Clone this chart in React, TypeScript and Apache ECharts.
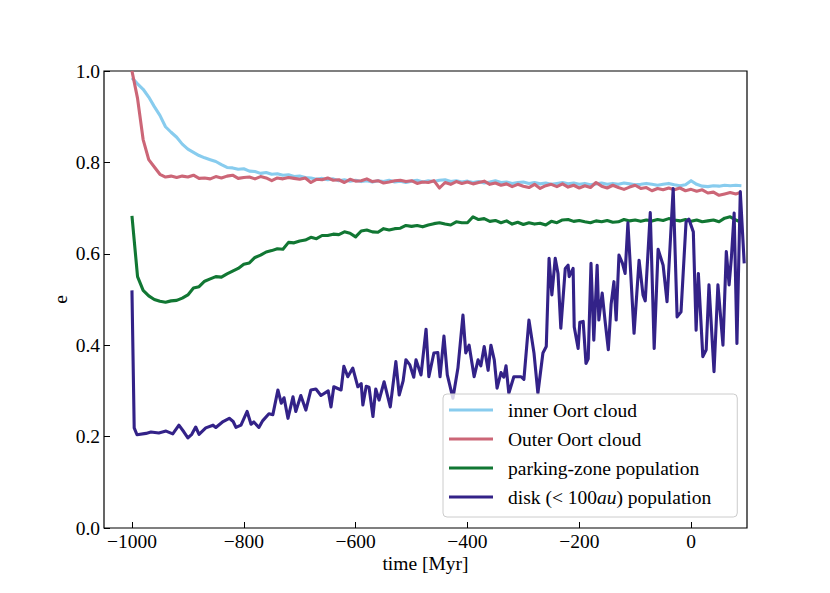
import React, { useEffect, useRef } from "react";
import * as echarts from "echarts";

// Sampling grid (Myr) for the three smoother populations
const timeGrid = [
  -1000, -990, -980, -970, -960, -950, -940, -930, -920, -910,
  -900, -890, -880, -870, -860, -850, -840, -830, -820, -810,
  -800, -790, -780, -770, -760, -750, -740, -730, -720, -710,
  -700, -690, -680, -670, -660, -650, -640, -630, -620, -610,
  -600, -590, -580, -570, -560, -550, -540, -530, -520, -510,
  -500, -490, -480, -470, -460, -450, -440, -430, -420, -410,
  -400, -390, -380, -370, -360, -350, -340, -330, -320, -310,
  -300, -290, -280, -270, -260, -250, -240, -230, -220, -210,
  -200, -190, -180, -170, -160, -150, -140, -130, -120, -110,
  -100, -90, -80, -70, -60, -50, -40, -30, -20, -10,
  0, 10, 20, 30, 40, 50, 60, 70, 80, 90,
];

const innerOort = [
  0.985, 0.972, 0.96, 0.943, 0.922, 0.903, 0.878, 0.866, 0.855, 0.84,
  0.829, 0.822, 0.815, 0.81, 0.806, 0.802, 0.795, 0.789, 0.788, 0.785,
  0.786, 0.781, 0.78, 0.776, 0.778, 0.774, 0.775, 0.772, 0.773, 0.769,
  0.77, 0.767, 0.766, 0.763, 0.765, 0.762, 0.764, 0.76, 0.762, 0.759,
  0.761, 0.758, 0.76, 0.757, 0.76, 0.758, 0.761, 0.757, 0.759, 0.756,
  0.759, 0.761, 0.757, 0.76, 0.758, 0.761, 0.762, 0.758, 0.76, 0.757,
  0.759, 0.756, 0.758, 0.755, 0.757, 0.76, 0.756, 0.757, 0.754, 0.756,
  0.757, 0.754, 0.756, 0.753, 0.755, 0.752, 0.754, 0.756, 0.753, 0.755,
  0.752, 0.754, 0.751, 0.753, 0.755, 0.752, 0.754, 0.752, 0.755, 0.753,
  0.751, 0.752, 0.754, 0.752, 0.75, 0.752, 0.754, 0.751, 0.749, 0.751,
  0.76, 0.752, 0.748, 0.747, 0.749, 0.748, 0.75, 0.749, 0.75, 0.749,
];

const outerOort = [
  1.0, 0.94, 0.85, 0.806, 0.79, 0.774, 0.768, 0.77, 0.767, 0.77,
  0.768, 0.772, 0.765, 0.766, 0.764, 0.769, 0.766, 0.77, 0.772, 0.765,
  0.767, 0.768, 0.764, 0.769, 0.766, 0.76, 0.766, 0.764, 0.767, 0.765,
  0.763, 0.766, 0.756, 0.763, 0.762, 0.766, 0.761, 0.762, 0.756, 0.763,
  0.759, 0.76, 0.764, 0.758, 0.76, 0.755, 0.757, 0.76, 0.761, 0.758,
  0.76, 0.754, 0.757, 0.756, 0.76, 0.744, 0.756, 0.752, 0.758, 0.754,
  0.757, 0.753, 0.756, 0.759, 0.752, 0.755, 0.75, 0.753, 0.747, 0.752,
  0.748, 0.745, 0.752, 0.743, 0.749, 0.752, 0.747, 0.753, 0.746, 0.75,
  0.744, 0.749, 0.745, 0.756, 0.748, 0.744, 0.75, 0.745, 0.741, 0.746,
  0.75, 0.743, 0.745, 0.738, 0.743, 0.74, 0.744, 0.74, 0.744, 0.738,
  0.741, 0.737, 0.74, 0.733, 0.735, 0.728, 0.731, 0.734, 0.731, 0.735,
];

const parkingZone = [
  0.683, 0.55, 0.52, 0.508, 0.5, 0.496, 0.494, 0.497, 0.498, 0.503,
  0.51, 0.525, 0.528, 0.54, 0.545, 0.55, 0.549, 0.556, 0.562, 0.568,
  0.577, 0.58, 0.592, 0.597, 0.604, 0.607, 0.611, 0.61, 0.625, 0.624,
  0.628, 0.63, 0.636, 0.633, 0.64, 0.64, 0.643, 0.642, 0.648, 0.645,
  0.637, 0.65, 0.652, 0.648, 0.647, 0.655, 0.652, 0.655, 0.656, 0.662,
  0.66, 0.662, 0.659, 0.663, 0.666, 0.668, 0.665, 0.663, 0.67, 0.668,
  0.668, 0.681, 0.675, 0.677, 0.671, 0.673, 0.668, 0.672, 0.665, 0.669,
  0.664, 0.668, 0.665, 0.667, 0.663, 0.671, 0.668, 0.674, 0.675, 0.671,
  0.673, 0.67, 0.668, 0.672, 0.67, 0.673, 0.669, 0.67, 0.675, 0.672,
  0.674, 0.671, 0.674, 0.672, 0.675, 0.673, 0.677, 0.674, 0.672, 0.675,
  0.671, 0.674, 0.67, 0.672, 0.674, 0.67, 0.678, 0.681, 0.674, 0.669,
];

// Disk population: [time (Myr), e]
const diskPoints: [number, number][] = [
  [-1000, 0.52], [-996, 0.219], [-991, 0.204], [-975, 0.207], [-966, 0.21],
  [-952, 0.208], [-939, 0.212], [-927, 0.206], [-916, 0.225], [-907, 0.21],
  [-900, 0.197], [-893, 0.205], [-886, 0.221], [-880, 0.205], [-868, 0.219],
  [-855, 0.225], [-850, 0.22], [-837, 0.233], [-826, 0.24], [-819, 0.233],
  [-814, 0.22], [-805, 0.225], [-794, 0.255], [-787, 0.227], [-782, 0.232],
  [-773, 0.22], [-766, 0.235], [-755, 0.25], [-748, 0.248], [-739, 0.302],
  [-733, 0.273], [-728, 0.285], [-721, 0.24], [-712, 0.287], [-707, 0.255],
  [-698, 0.29], [-689, 0.258], [-680, 0.302], [-671, 0.304], [-662, 0.29],
  [-649, 0.3], [-644, 0.265], [-639, 0.309], [-626, 0.302], [-621, 0.354],
  [-614, 0.331], [-605, 0.35], [-596, 0.309], [-590, 0.316], [-587, 0.269],
  [-581, 0.31], [-576, 0.308], [-569, 0.244], [-564, 0.304], [-558, 0.28],
  [-549, 0.32], [-538, 0.265], [-528, 0.364], [-522, 0.291], [-515, 0.322],
  [-510, 0.368], [-503, 0.357], [-496, 0.33], [-492, 0.368], [-483, 0.335],
  [-474, 0.435], [-469, 0.331], [-460, 0.383], [-453, 0.384], [-449, 0.331],
  [-442, 0.42], [-436, 0.335], [-426, 0.284], [-417, 0.35], [-408, 0.466],
  [-403, 0.383], [-397, 0.4], [-388, 0.331], [-381, 0.368], [-376, 0.355],
  [-370, 0.397], [-363, 0.345], [-358, 0.4], [-352, 0.368], [-347, 0.306],
  [-340, 0.34], [-335, 0.33], [-331, 0.355], [-326, 0.295], [-317, 0.331],
  [-304, 0.331], [-299, 0.325], [-290, 0.455], [-281, 0.383], [-274, 0.295],
  [-265, 0.383], [-259, 0.397], [-254, 0.59], [-249, 0.51], [-243, 0.59],
  [-238, 0.557], [-233, 0.437], [-225, 0.568], [-220, 0.575], [-218, 0.55],
  [-211, 0.568], [-209, 0.44], [-202, 0.393], [-199, 0.45], [-193, 0.452],
  [-188, 0.36], [-184, 0.37], [-179, 0.579], [-174, 0.411], [-168, 0.575],
  [-165, 0.455], [-159, 0.514], [-154, 0.455], [-148, 0.39], [-143, 0.49],
  [-138, 0.539], [-134, 0.455], [-129, 0.597], [-123, 0.58], [-118, 0.557],
  [-113, 0.668], [-102, 0.426], [-93, 0.586], [-86, 0.51], [-82, 0.497],
  [-73, 0.69], [-66, 0.393], [-59, 0.61], [-50, 0.575], [-43, 0.495],
  [-32, 0.743], [-25, 0.462], [-18, 0.473], [-9, 0.67], [-4, 0.676],
  [4, 0.648], [9, 0.433], [13, 0.557], [21, 0.375], [27, 0.39],
  [32, 0.532], [41, 0.342], [48, 0.532], [57, 0.4], [63, 0.605],
  [68, 0.532], [72, 0.59], [77, 0.689], [82, 0.404], [88, 0.736],
  [95, 0.579],
];

const xTicks = [-1000, -800, -600, -400, -200, 0];
const seriesNames = [
  "inner Oort cloud",
  "Outer Oort cloud",
  "parking-zone population",
  "disk (< 100au) population",
];
const colors = ["#88CCEE", "#CC6677", "#117733", "#332288"];

const FONT = "'Liberation Serif', 'DejaVu Serif', serif";
const FS = 19.5;

function pair(values: number[]) {
  return values.map((v, i) => [timeGrid[i], v]);
}

export default function App() {
  const ref = useRef<HTMLDivElement>(null);

  useEffect(() => {
    if (!ref.current) return;
    const chart = echarts.init(ref.current, null, { renderer: "svg" });
    const datasets = [pair(innerOort), pair(outerOort), pair(parkingZone), diskPoints];
    chart.setOption({
      animation: false,
      backgroundColor: "#ffffff",
      grid: {
        left: 104,
        top: 71,
        width: 643,
        height: 457,
        show: true,
        borderColor: "#000000",
        borderWidth: 1.2,
        backgroundColor: "transparent",
      },
      xAxis: {
        type: "value",
        min: -1050,
        max: 100,
        name: "time [Myr]",
        nameLocation: "middle",
        nameGap: 25,
        nameMoveOverlap: false,
        nameTextStyle: { fontFamily: FONT, fontSize: FS, color: "#000" },
        axisLine: { show: false, onZero: false },
        splitLine: { show: false },
        axisTick: {
          show: true,
          inside: true,
          length: 6,
          lineStyle: { color: "#000", width: 1 },
          customValues: xTicks,
        },
        axisLabel: {
          customValues: xTicks,
          margin: 3,
          fontFamily: FONT,
          fontSize: FS,
          color: "#000",
          formatter: (v: number) => (v < 0 ? "\u2212" + Math.abs(v) : String(v)),
        },
      },
      yAxis: {
        type: "value",
        min: 0,
        max: 1,
        interval: 0.2,
        name: "e",
        nameLocation: "middle",
        nameRotate: 90,
        nameGap: 34,
        nameMoveOverlap: false,
        nameTextStyle: { fontFamily: FONT, fontSize: FS, color: "#000" },
        axisLine: { show: false, onZero: false },
        splitLine: { show: false },
        axisTick: {
          show: true,
          inside: true,
          length: 6,
          lineStyle: { color: "#000", width: 1 },
        },
        axisLabel: {
          margin: 4,
          fontFamily: FONT,
          fontSize: FS,
          color: "#000",
          formatter: (v: number) => v.toFixed(1),
        },
      },
      legend: {
        orient: "vertical",
        left: 443,
        top: 394,
        icon: "rect",
        itemWidth: 44,
        itemHeight: 3,
        itemGap: 9,
        padding: [6, 26, 10, 6],
        backgroundColor: "rgba(255,255,255,0.8)",
        borderColor: "#cccccc",
        borderWidth: 1,
        borderRadius: 4,
        data: seriesNames,
        textStyle: {
          fontFamily: FONT,
          fontSize: FS,
          color: "#000",
          lineHeight: 20,
          padding: [0, 0, 0, 10],
          rich: {
            n: { fontFamily: FONT, fontSize: FS, color: "#000", lineHeight: 20 },
            it: { fontFamily: FONT, fontSize: FS, color: "#000", fontStyle: "italic", lineHeight: 20 },
          },
        },
        formatter: (name: string) =>
          name === seriesNames[3]
            ? "{n|disk (< 100}{it|au}{n|) population}"
            : "{n|" + name + "}",
      },
      series: seriesNames.map((name, i) => ({
        name,
        type: "line",
        data: datasets[i],
        showSymbol: false,
        symbol: "none",
        clip: true,
        color: colors[i],
        lineStyle: { color: colors[i], width: 3.1, join: "round" },
        emphasis: { disabled: true },
      })),
    });
    return () => chart.dispose();
  }, []);

  return (
    <div
      ref={ref}
      style={{ position: "fixed", left: 0, top: 0, width: 830, height: 593 }}
    />
  );
}
